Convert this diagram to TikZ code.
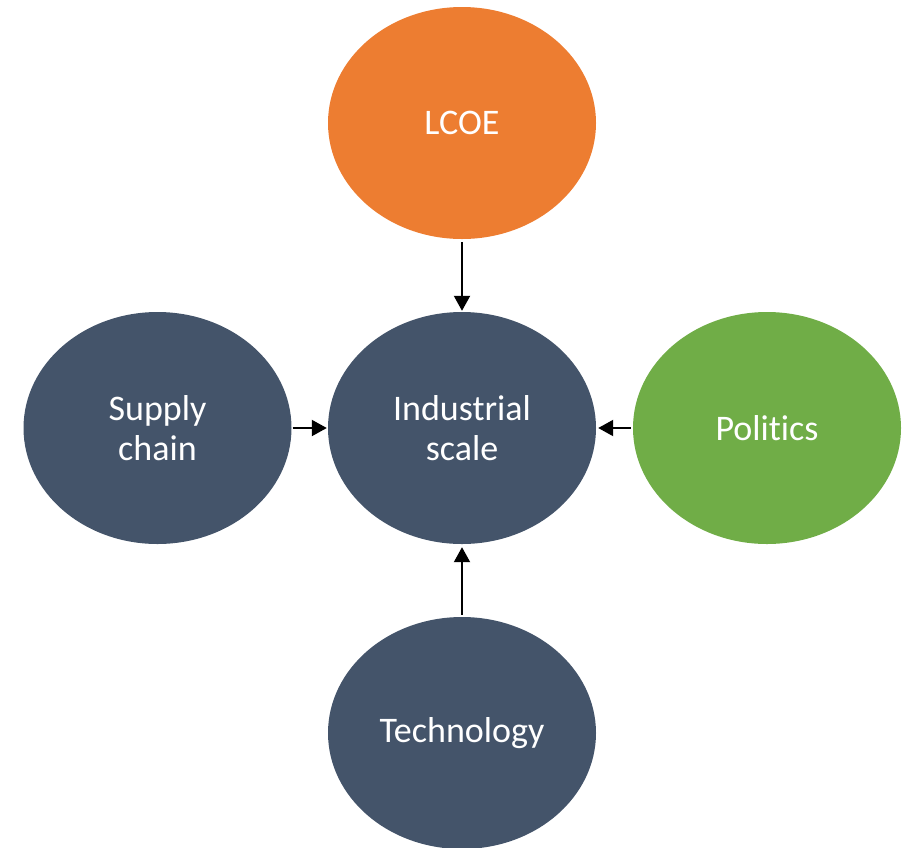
\documentclass[tikz,border=0pt]{standalone}
\usepackage{fontspec}
\setmainfont{Carlito}[Ligatures={NoCommon}]
\usetikzlibrary{arrows.meta,shapes.geometric}
\definecolor{navy}{HTML}{44546A}
\definecolor{orng}{HTML}{ED7D31}
\definecolor{grn}{HTML}{70AD47}
\begin{document}
\begin{tikzpicture}[x=1pt,y=-1pt,
  blob/.style={ellipse, minimum width=268pt, minimum height=232pt, inner sep=0pt,
    text=white, align=center, font=\fontsize{36}{40}\selectfont},
  conn/.style={-{Triangle[length=15pt,width=16pt]}, line width=2pt, black}]
\useasboundingbox (0,0) rectangle (913,847);
\node[blob, fill=orng] (lcoe) at (462,123) {LCOE};
\node[blob, fill=navy] (ind) at (462,428) {Industrial\\scale};
\node[blob, fill=navy] (sup) at (157.5,428) {Supply\\chain};
\node[blob, fill=grn] (pol) at (767,428) {Politics};
\node[blob, fill=navy] (tech) at (462,733) {Technology};
\draw[conn] ([yshift=-3pt]lcoe.south) -- ([yshift=1pt]ind.north);
\draw[conn] ([xshift=1pt]sup.east) -- ([xshift=-1pt]ind.west);
\draw[conn] ([xshift=-2pt]pol.west) -- ([xshift=2pt]ind.east);
\draw[conn] ([yshift=2pt]tech.north) -- ([yshift=-3pt]ind.south);
\end{tikzpicture}
\end{document}
